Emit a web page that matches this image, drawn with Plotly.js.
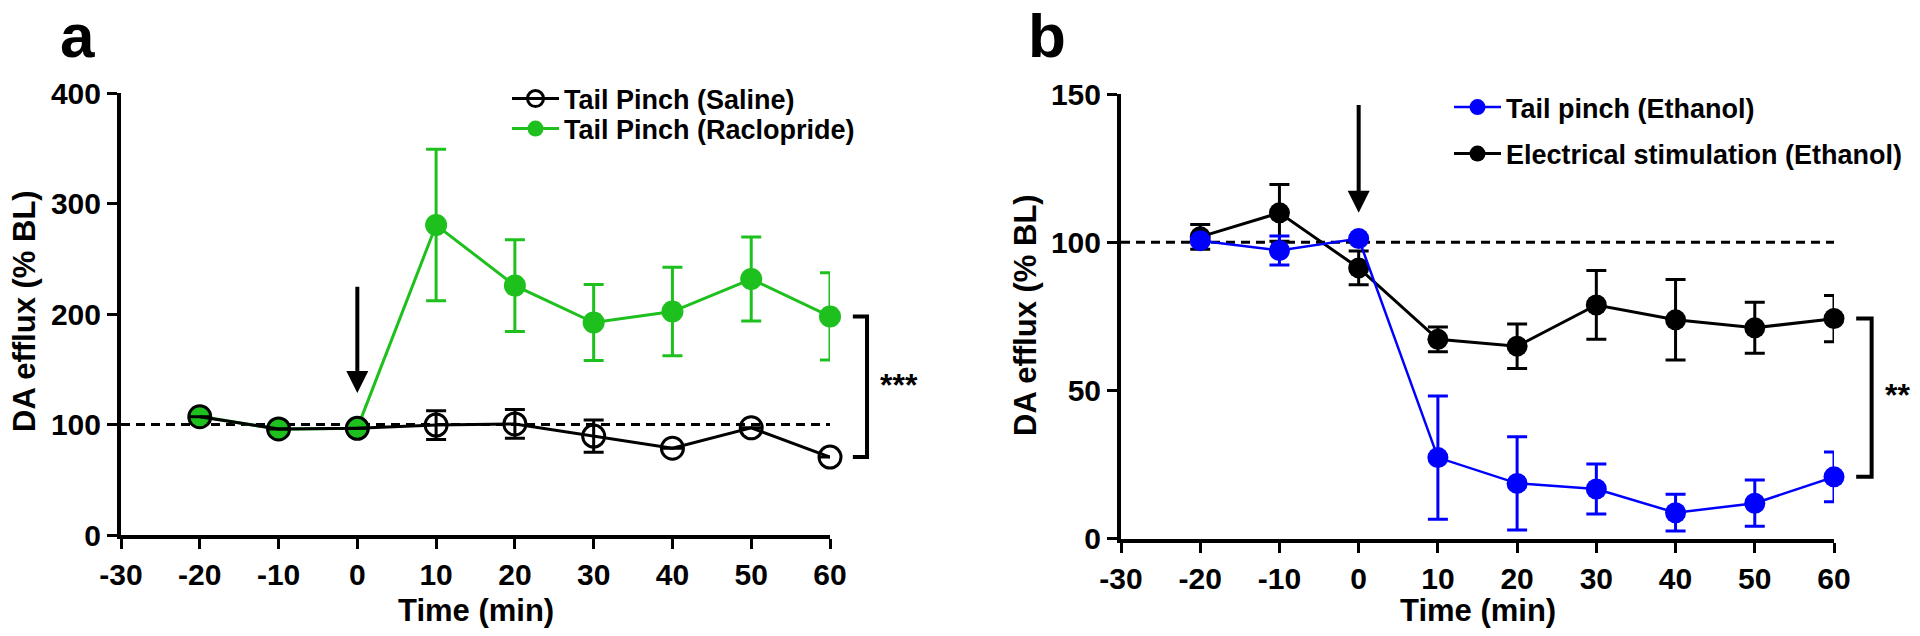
<!DOCTYPE html>
<html>
<head>
<meta charset="utf-8">
<script src="https://cdn.plot.ly/plotly-3.0.1.min.js"></script>
<style>html,body{margin:0;padding:0;background:#fff;}#chart{width:1920px;height:636px;}</style>
</head>
<body>
<div id="chart"></div>
<script>
// ---------- data ----------
const timeMin = [-20, -10, 0, 10, 20, 30, 40, 50, 60];
const xTickVals = [-30, -20, -10, 0, 10, 20, 30, 40, 50, 60];
const xTickText = ["-30", "-20", "-10", "0", "10", "20", "30", "40", "50", "60"];
const yTickValsA = [0, 100, 200, 300, 400];
const yTickTextA = ["0", "100", "200", "300", "400"];
const yTickValsB = [0, 50, 100, 150];
const yTickTextB = ["0", "50", "100", "150"];

// panel a
const salineMean = [107, 96, 96.5, 99.5, 100.5, 89.5, 78.5, 97, 70.5];
const salineSem  = [null, null, null, 13, 13, 14.5, null, null, null];
const racloMean  = [107.4, 95.6, 96.7, 280.5, 225.7, 192.3, 202.2, 231.6, 197.8];
const racloSem   = [null, null, null, 68.5, 41.5, 34.3, 40, 38, 39.5];
// panel b
const tailEtohMean = [100.5, 97.2, 101.2, 27.3, 18.6, 16.7, 8.7, 11.9, 20.8];
const tailEtohSem  = [null, 4.9, null, 20.8, 15.7, 8.4, 6.2, 7.8, 8.4];
const elecEtohMean = [101.8, 109.9, 91.3, 67.2, 64.9, 78.8, 73.8, 71.1, 74.2];
const elecEtohSem  = [4.2, 9.6, 5.7, 4.2, 7.5, 11.6, 13.6, 8.6, 7.8];

const baselineValue = 100;
const arrowA = {from: 226, to: 128.5};
const arrowB = {from: 146.8, to: 109.9};

// ---------- geometry helpers ----------
const W = 1920, H = 636;
const PA = {x0: 121, x1: 830, y0: 93, y1: 535, xr: [-30, 60], yr: [0, 400]};
const PB = {x0: 1121, x1: 1834, y0: 94, y1: 538.5, xr: [-30, 60], yr: [0, 150]};
const fx = p => p / W;
const fy = p => 1 - p / H;
function dx(P, v) { return fx(P.x0 + (v - P.xr[0]) / (P.xr[1] - P.xr[0]) * (P.x1 - P.x0)); }
function dy(P, v) { return fy(P.y1 - (v - P.yr[0]) / (P.yr[1] - P.yr[0]) * (P.y1 - P.y0)); }

const GREEN = '#1ec01e';
const BLUE = '#0000ff';
const FONT = 'Liberation Sans, Arial, sans-serif';

function errCfg(arr, color) {
  return {type: 'data', array: arr, visible: true, color: color, thickness: 3, width: 10};
}

const traces = [
  {
    x: timeMin, y: racloMean, name: 'Tail Pinch (Raclopride)', type: 'scatter', mode: 'lines+markers',
    xaxis: 'x', yaxis: 'y', legend: 'legend2', cliponaxis: false,
    line: {color: GREEN, width: 3},
    marker: {color: GREEN, size: 22, line: {width: 0}},
    error_y: errCfg(racloSem, GREEN)
  },
  {
    x: timeMin, y: salineMean, name: 'Tail Pinch (Saline)', type: 'scatter', mode: 'lines+markers',
    xaxis: 'x', yaxis: 'y', legend: 'legend', cliponaxis: false,
    line: {color: 'black', width: 3},
    marker: {symbol: 'circle-open', color: 'black', size: 22, line: {width: 3, color: 'black'}},
    error_y: errCfg(salineSem, 'black')
  },
  {
    x: timeMin, y: elecEtohMean, name: 'Electrical stimulation (Ethanol)', type: 'scatter', mode: 'lines+markers',
    xaxis: 'x2', yaxis: 'y2', legend: 'legend4', cliponaxis: false,
    line: {color: 'black', width: 3},
    marker: {color: 'black', size: 21},
    error_y: errCfg(elecEtohSem, 'black')
  },
  {
    x: timeMin, y: tailEtohMean, name: 'Tail pinch (Ethanol)', type: 'scatter', mode: 'lines+markers',
    xaxis: 'x2', yaxis: 'y2', legend: 'legend3', cliponaxis: false,
    line: {color: BLUE, width: 2.5},
    marker: {color: BLUE, size: 21},
    error_y: errCfg(tailEtohSem, BLUE)
  }
];

function axisBase() {
  return {
    showgrid: false, zeroline: false, showline: true, linecolor: 'black', linewidth: 4,
    ticks: 'outside', ticklen: 10, tickwidth: 3, tickcolor: 'black',
    tickfont: {family: FONT, size: 30, color: 'black', weight: 'bold'},
    tickmode: 'array', fixedrange: true
  };
}

const xa = Object.assign(axisBase(), {domain: [fx(PA.x0), fx(PA.x1)], range: PA.xr, anchor: 'y', tickvals: xTickVals, ticktext: xTickText});
const ya = Object.assign(axisBase(), {domain: [fy(PA.y1), fy(PA.y0)], range: PA.yr, anchor: 'x', tickvals: yTickValsA, ticktext: yTickTextA});
const xb = Object.assign(axisBase(), {domain: [fx(PB.x0), fx(PB.x1)], range: PB.xr, anchor: 'y2', tickvals: xTickVals, ticktext: xTickText});
const yb = Object.assign(axisBase(), {domain: [fy(PB.y1), fy(PB.y0)], range: PB.yr, anchor: 'x2', tickvals: yTickValsB, ticktext: yTickTextB});

function legendCfg(xPix, yPix) {
  return {
    x: fx(xPix), y: fy(yPix), xanchor: 'left', yanchor: 'middle', xref: 'paper', yref: 'paper',
    bgcolor: 'rgba(0,0,0,0)', borderwidth: 0, itemwidth: 47,
    font: {family: FONT, size: 27, color: 'black', weight: 'bold'}
  };
}

function bracket(P, xTip, xBar, yTop, yBot) {
  const a = dx(P, xTip), c = dx(P, xBar), b = dy(P, yTop), d = dy(P, yBot);
  return {
    type: 'path', xref: 'paper', yref: 'paper', layer: 'above',
    path: `M${a},${b} L${c},${b} L${c},${d} L${a},${d}`,
    line: {color: 'black', width: 4}
  };
}

const last = arr => arr[arr.length - 1];

const shapes = [
  {type: 'line', xref: 'x', yref: 'y', x0: PA.xr[0], x1: PA.xr[1], y0: baselineValue, y1: baselineValue,
   layer: 'below', line: {color: 'black', width: 3, dash: '9px,6px'}},
  {type: 'line', xref: 'x2', yref: 'y2', x0: PB.xr[0], x1: PB.xr[1], y0: baselineValue, y1: baselineValue,
   layer: 'below', line: {color: 'black', width: 3, dash: '9px,6px'}},
  bracket(PA, 62.9, 64.7, last(racloMean), last(salineMean)),
  bracket(PB, 62.8, 64.75, last(elecEtohMean), last(tailEtohMean))
];

const titleFont = {family: FONT, size: 31, color: 'black', weight: 'bold'};
const letterFont = {family: FONT, size: 62, color: 'black', weight: 'bold'};
const annotations = [
  {text: 'a', x: fx(59), y: 1, xref: 'paper', yref: 'paper', xanchor: 'left', yanchor: 'top', showarrow: false,
   borderpad: 0, font: letterFont},
  {text: 'b', x: fx(1027), y: 1, xref: 'paper', yref: 'paper', xanchor: 'left', yanchor: 'top', showarrow: false,
   borderpad: 0, font: letterFont},
  {text: 'DA efflux (% BL)', x: fx(25), y: fy(311), xref: 'paper', yref: 'paper', textangle: -90,
   xanchor: 'center', yanchor: 'middle', showarrow: false, font: titleFont},
  {text: 'DA efflux (% BL)', x: fx(1026), y: fy(315), xref: 'paper', yref: 'paper', textangle: -90,
   xanchor: 'center', yanchor: 'middle', showarrow: false, font: titleFont},
  {text: 'Time (min)', x: fx((PA.x0 + PA.x1) / 2), y: fy(610), xref: 'paper', yref: 'paper',
   xanchor: 'center', yanchor: 'middle', showarrow: false, font: titleFont},
  {text: 'Time (min)', x: fx((PB.x0 + PB.x1) / 2), y: fy(610), xref: 'paper', yref: 'paper',
   xanchor: 'center', yanchor: 'middle', showarrow: false, font: titleFont},
  {text: '***', x: dx(PA, 68.8), y: dy(PA, 136), xref: 'paper', yref: 'paper',
   xanchor: 'center', yanchor: 'middle', showarrow: false, font: {family: FONT, size: 32, color: 'black', weight: 'bold'}},
  {text: '**', x: dx(PB, 68.0), y: dy(PB, 48.5), xref: 'paper', yref: 'paper',
   xanchor: 'center', yanchor: 'middle', showarrow: false, font: {family: FONT, size: 32, color: 'black', weight: 'bold'}},
  {text: '', x: 0, y: arrowA.to, xref: 'x', yref: 'y', ax: 0, ay: arrowA.from, axref: 'x', ayref: 'y',
   showarrow: true, arrowhead: 2, arrowsize: 1.1, arrowwidth: 4, arrowcolor: 'black', standoff: 0},
  {text: '', x: 0, y: arrowB.to, xref: 'x2', yref: 'y2', ax: 0, ay: arrowB.from, axref: 'x2', ayref: 'y2',
   showarrow: true, arrowhead: 2, arrowsize: 1.1, arrowwidth: 4, arrowcolor: 'black', standoff: 0}
];

const layout = {
  width: W, height: H,
  margin: {l: 0, r: 0, t: 0, b: 0, pad: 0},
  paper_bgcolor: 'white', plot_bgcolor: 'white',
  showlegend: true,
  font: {family: FONT, color: 'black'},
  xaxis: xa, yaxis: ya, xaxis2: xb, yaxis2: yb,
  legend: legendCfg(507, 99),
  legend2: legendCfg(507, 129),
  legend3: legendCfg(1449, 107.5),
  legend4: legendCfg(1449, 154),
  shapes: shapes,
  annotations: annotations
};

Plotly.newPlot('chart', traces, layout, {displayModeBar: false, staticPlot: true});
</script>
</body>
</html>
